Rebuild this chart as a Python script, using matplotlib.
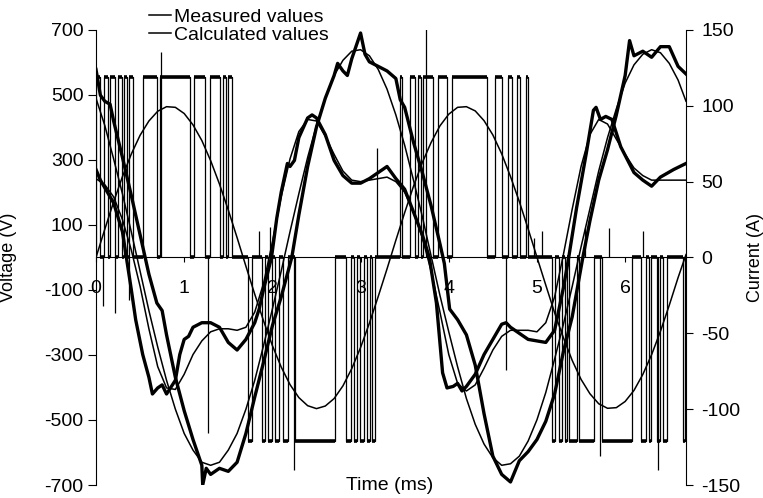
"""Measured vs calculated inverter voltage and phase currents over two cycles."""

import matplotlib

matplotlib.use("Agg")
import matplotlib.pyplot as plt  # noqa: E402
from matplotlib.lines import Line2D  # noqa: E402

plt.rcParams["font.family"] = ["Liberation Sans", "DejaVu Sans"]
plt.rcParams["axes.unicode_minus"] = False

# time grid of the calculated curves (ms)
t_calc = [0.0, 0.1, 0.2, 0.3, 0.4, 0.5, 0.6, 0.7, 0.8, 0.9,
          1.0, 1.1, 1.2, 1.3, 1.4, 1.5, 1.6, 1.7, 1.8, 1.9,
          2.0, 2.1, 2.2, 2.3, 2.4, 2.5, 2.6, 2.7, 2.8, 2.9,
          3.0, 3.1, 3.2, 3.3, 3.4, 3.5, 3.6, 3.7, 3.8, 3.9,
          4.0, 4.1, 4.2, 4.3, 4.4, 4.5, 4.6, 4.7, 4.8, 4.9,
          5.0, 5.1, 5.2, 5.3, 5.4, 5.5, 5.6, 5.7, 5.8, 5.9,
          6.0, 6.1, 6.2, 6.3, 6.4, 6.5, 6.6, 6.69]

# calculated fundamental voltage (V)
v_calc = [0, 87, 171, 249, 318, 376, 420, 450, 464, 462,
          443, 408, 360, 298, 226, 146, 61, -27, -113, -195,
          -271, -337, -391, -431, -456, -465, -457, -434, -395, -342,
          -277, -202, -120, -35, 53, 138, 219, 292, 354, 405,
          441, 462, 464, 451, 421, 377, 319, 249, 172, 88,
          1, -85, -170, -247, -317, -375, -419, -450, -464, -462,
          -443, -409, -360, -299, -227, -147, -62, 9]

# calculated currents (A)
i1_calc = [105, 87, 65, 42, 17, -9, -35, -59, -81, -100,
           -116, -127, -135, -137, -135, -127, -116, -100, -81, -58,
           -34, -9, 17, 42, 66, 87, 105, 120, 130, 136,
           137, 133, 124, 111, 94, 74, 51, 27, 1, -25,
           -49, -72, -93, -110, -123, -132, -137, -136, -131, -121,
           -107, -89, -67, -44, -19, 7, 32, 57, 79, 98,
           115, 127, 134, 137, 135, 128, 117, 103]
i2_calc = [52, 48, 40, 25, 5, -19, -47, -72, -86, -87,
           -77, -64, -55, -49, -47, -47, -48, -46, -36, -17,
           10, 40, 65, 83, 91, 90, 80, 68, 57, 51,
           50, 51, 52, 53, 50, 43, 30, 13, -9, -36,
           -64, -83, -88, -84, -73, -61, -52, -48, -48, -48,
           -49, -43, -26, 2, 32, 60, 81, 91, 88, 78,
           68, 59, 54, 51, 51, 51, 51, 51]

# measured currents (A)
t_i1_meas = [0.0, 0.05, 0.1, 0.16, 0.2, 0.3, 0.4, 0.5, 0.6, 0.69,
             0.75, 0.8, 0.9, 1.0, 1.1, 1.2, 1.21, 1.25, 1.3, 1.4,
             1.5, 1.6, 1.7, 1.8, 1.9, 2.0, 2.1, 2.22, 2.3, 2.4,
             2.5, 2.6, 2.7, 2.74, 2.8, 2.85, 2.9, 3.0, 3.05, 3.1,
             3.2, 3.3, 3.4, 3.45, 3.5, 3.6, 3.7, 3.8, 3.9, 3.95,
             4.01, 4.1, 4.2, 4.3, 4.4, 4.5, 4.6, 4.7, 4.8, 4.9,
             5.0, 5.1, 5.2, 5.3, 5.4, 5.52, 5.6, 5.7, 5.8, 5.9,
             6.0, 6.05, 6.1, 6.2, 6.3, 6.4, 6.5, 6.6, 6.69]
i1_meas = [124, 107, 103, 101, 90, 66, 41, 15, -11, -30,
           -35, -51, -79, -101, -120, -137, -150, -139, -143, -139,
           -141, -135, -116, -92, -69, -45, -26, 0, 28, 60,
           86, 105, 120, 128, 123, 120, 131, 148, 134, 129,
           126, 123, 118, 104, 99, 76, 56, 34, 9, -4,
           -34, -41, -51, -71, -103, -131, -143, -148, -134, -128,
           -120, -108, -90, -62, -39, 0, 24, 51, 71, 94,
           120, 143, 133, 136, 132, 139, 139, 126, 121]
t_i2_meas = [0.0, 0.05, 0.1, 0.2, 0.3, 0.4, 0.45, 0.53, 0.6, 0.64,
             0.7, 0.75, 0.8, 0.9, 0.95, 1.0, 1.05, 1.1, 1.2, 1.3,
             1.4, 1.5, 1.6, 1.7, 1.8, 1.85, 1.9, 1.99, 2.05, 2.1,
             2.17, 2.2, 2.25, 2.3, 2.4, 2.45, 2.5, 2.6, 2.7, 2.8,
             2.9, 3.0, 3.1, 3.2, 3.3, 3.4, 3.5, 3.6, 3.7, 3.78,
             3.86, 3.93, 3.98, 4.05, 4.1, 4.15, 4.2, 4.3, 4.4, 4.5,
             4.6, 4.65, 4.7, 4.8, 4.9, 5.0, 5.1, 5.2, 5.3, 5.36,
             5.45, 5.56, 5.64, 5.67, 5.72, 5.78, 5.85, 5.95, 6.1, 6.2,
             6.3, 6.4, 6.55, 6.69]
i2_meas = [58, 51, 46, 36, 17, -21, -41, -64, -79, -90,
           -86, -84, -90, -81, -64, -54, -52, -46, -43, -43,
           -46, -56, -61, -54, -43, -34, -21, 0, 26, 43,
           62, 60, 64, 79, 92, 94, 92, 81, 64, 54,
           49, 49, 52, 56, 60, 52, 45, 30, 15, 0,
           -30, -76, -86, -85, -83, -88, -85, -77, -64, -54,
           -44, -43, -46, -50, -54, -55, -56, -48, -20, 0,
           33, 69, 97, 99, 91, 93, 91, 73, 56, 51,
           47, 53, 58, 62]

# measured PWM voltage: switching-on intervals (ms) per half cycle
pos_half_1 = [(0.00, 0.045), (0.09, 0.136), (0.159, 0.215), (0.249, 0.294),
              (0.317, 0.351), (0.374, 0.419), (0.532, 0.691), (0.725, 1.065),
              (1.11, 1.234), (1.291, 1.404), (1.438, 1.472), (1.495, 1.54)]
neg_half_1 = [(1.721, 1.767), (1.88, 1.914), (1.948, 1.993), (2.027, 2.072),
              (2.118, 2.174), (2.254, 2.707), (2.831, 2.888), (2.922, 2.956),
              (2.99, 3.035), (3.069, 3.103), (3.126, 3.16)]
pos_half_2 = [(3.443, 3.465), (3.556, 3.613), (3.647, 3.681), (3.703, 3.817),
              (3.873, 3.975), (4.032, 4.439), (4.519, 4.598), (4.666, 4.722),
              (4.779, 4.802), (4.881, 4.904)]
neg_half_2 = [(5.176, 5.209), (5.255, 5.289), (5.323, 5.345), (5.368, 5.459),
              (5.481, 5.651), (5.742, 6.082), (6.183, 6.24), (6.274, 6.297),
              (6.365, 6.399), (6.433, 6.478), (6.659, 6.682)]
v_dc_pos = 555
v_dc_neg = -565

# switching spikes (ms, V)
spike_t = [0.74, 1.27, 2.25, 3.19, 3.74, 4.65, 5.71, 6.37,
           0.08, 0.22, 0.38, 1.85, 1.97, 4.97, 5.06, 5.55, 5.82, 6.2]
spike_v = [632, -540, -655, 336, 705, -346, -610, -655,
           -150, -170, -130, 80, 95, 60, 80, 90, 90, 80]

T_END = 6.69
FS = 14
FS_LABEL = 13


def pulses():
    out = [(s, e, v_dc_pos) for s, e in pos_half_1]
    out += [(s, e, v_dc_neg) for s, e in neg_half_1]
    out += [(s, e, v_dc_pos) for s, e in pos_half_2]
    out += [(s, e, v_dc_neg) for s, e in neg_half_2]
    return sorted(out)


def draw_pwm(ax):
    t, v = [0.0], [0.0]
    prev = 0.0
    gaps = []
    for s, e, lvl in pulses():
        t += [s, s, e, e]
        v += [0, lvl, lvl, 0]
        ax.hlines(lvl, s, e, color="black", lw=2.6)
        if s > prev:
            gaps.append((prev, s))
        prev = e
    gaps.append((prev, T_END))
    t.append(T_END)
    v.append(0)
    ax.plot(t, v, color="black", lw=0.9)
    for s, e in gaps:
        ax.hlines(0, s, e, color="black", lw=2.6)
    ax.vlines(spike_t, 0, spike_v, color="black", lw=0.9)


fig = plt.figure(figsize=(7.63, 4.98), dpi=100)
ax = fig.add_axes([0.1258, 0.0261, 0.7733, 0.9137])
ax2 = ax.twinx()

draw_pwm(ax)
ax.plot(t_calc, v_calc, color="black", lw=1.1)
ax2.plot(t_i1_meas, i1_meas, color="black", lw=2.4)
ax2.plot(t_i2_meas, i2_meas, color="black", lw=2.4)
ax2.plot(t_calc, i1_calc, color="black", lw=1.1)
ax2.plot(t_calc, i2_calc, color="black", lw=1.1)

ax.set_xlim(0, T_END)
ax.set_ylim(-700, 700)
ax.set_yticks(range(-700, 701, 200))
ax.set_xticks(range(0, 7))
ax2.set_ylim(-150, 150)
ax2.set_yticks(range(-150, 151, 50))

for side in ("top", "right"):
    ax.spines[side].set_visible(False)
ax.spines["bottom"].set_position(("data", 0))
for side in ("top", "bottom", "left"):
    ax2.spines[side].set_visible(False)
for sp in list(ax.spines.values()) + [ax2.spines["right"]]:
    sp.set_linewidth(0.8)

ax.tick_params(axis="y", direction="out", length=6, width=0.8, pad=3, labelsize=FS)
ax.tick_params(axis="x", direction="out", length=3.5, width=0.8, pad=13, labelsize=FS)
ax2.tick_params(axis="y", direction="out", length=5, width=0.8, pad=6, labelsize=FS)

ax.set_ylabel("Voltage (V)", fontsize=FS_LABEL)
ax.yaxis.set_label_coords(-0.134, 0.5)
ax2.set_ylabel("Current (A)", fontsize=FS_LABEL)
ax2.yaxis.set_label_coords(1.103, 0.5)
ax.text(0.498, 0.0, "Time (ms)", transform=ax.transAxes, ha="center", va="center",
        fontsize=FS)

handles = [Line2D([], [], color="black", lw=1.1), Line2D([], [], color="black", lw=1.1)]
fig.legend(handles, ["Measured values", "Calculated values"], loc="center left",
           bbox_to_anchor=(149 / 763, 1 - 26 / 498), frameon=False, fontsize=FS,
           handlelength=1.15, handletextpad=0.15, labelspacing=0.0,
           borderpad=0, borderaxespad=0)

fig.savefig("out.png", dpi=100)
